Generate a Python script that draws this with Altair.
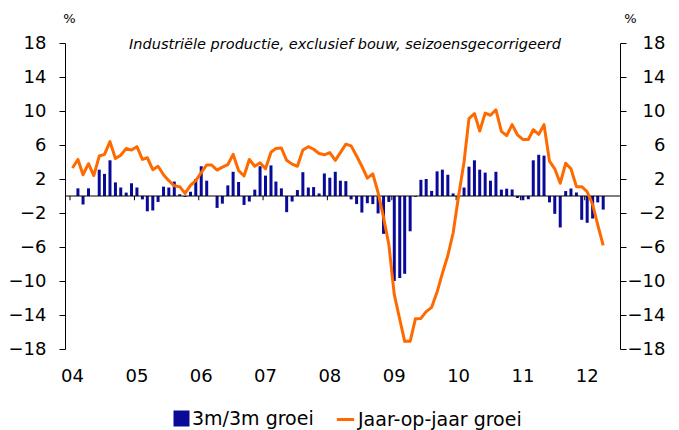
import altair as alt
import pandas as pd

# 3m/3m groei (bars), monthly from Jan 2004
bar_vals = [
    0.0, 0.9, -1.0, 0.9, 0.0, 3.1, 2.6, 4.2, 1.6, 1.0, 0.4, 1.5,      # 2004
    1.0, -0.4, -1.8, -1.7, -0.7, 1.1, 1.0, 1.7, 0.2, -0.1, 0.5, 2.0,  # 2005
    3.5, 1.8, 0.0, -1.4, -0.9, 1.25, 2.85, 1.65, -1.05, -0.65, 0.75, 3.5,  # 2006
    2.4, 3.6, 1.7, 0.9, -1.9, -0.65, 0.7, 2.8, 1.0, 1.05, 0.3, 2.65,  # 2007
    2.15, 2.85, 1.8, 1.75, -0.4, -0.95, -1.95, -0.85, -0.95, -2.05, -4.45, -0.7,  # 2008
    -10.0, -9.65, -9.15, -4.15, -0.1, 1.9, 2.0, 0.6, 2.9, 3.1, 2.5, 0.3,  # 2009
    0.0, 1.0, 3.45, 4.2, 3.1, 2.75, 1.8, 2.85, 0.75, 0.86, 0.77, -0.24,  # 2010
    -0.5, -0.38, 4.2, 4.85, 4.75, -0.75, -2.1, -3.7, 0.58, 0.88, 0.42, -2.8,  # 2011
    -3.15, -2.65, -0.75, -1.6,  # 2012
]

# Jaar-op-jaar groei (line)
line_vals = [
    3.3, 4.3, 2.5, 3.8, 2.4, 4.7, 4.9, 6.4, 4.4, 4.8, 5.6, 5.4,
    5.8, 4.3, 4.5, 3.1, 3.5, 2.5, 1.8, 1.2, 1.1, 0.3, 1.25, 1.8,
    2.75, 3.65, 3.65, 3.05, 3.4, 3.7, 4.9, 3.0, 2.35, 4.3, 3.5, 3.9,
    3.2, 5.15, 5.6, 5.65, 4.2, 3.75, 3.5, 5.4, 5.8, 5.5, 5.0, 4.85,
    5.1, 4.2, 5.1, 6.1, 5.9, 4.7, 3.5, 2.1, 2.6, 0.4, -2.5, -5.7,
    -11.6, -14.5, -17.1, -17.1, -14.45, -14.4, -13.6, -13.1, -11.3, -9.1, -7.0, -4.35,
    0.0, 4.0, 9.1, 9.7, 7.65, 9.75, 9.5, 10.15, 7.6, 7.1, 8.4, 7.2,
    6.65, 6.65, 7.8, 7.25, 8.4, 4.1, 3.2, 1.5, 3.85, 3.2, 1.1, 1.1,
    0.5, -1.0, -3.4, -5.8,
]

y_ticks = [-18, -14, -10, -6, -2, 2, 6, 10, 14, 18]
years = list(range(2004, 2013))
bar_name = "3m/3m groei"
line_name = "Jaar-op-jaar groei"
title_text = "Industriële productie, exclusief bouw, seizoensgecorrigeerd"

dates = pd.date_range("2004-01-01", periods=len(bar_vals), freq="MS") + pd.Timedelta(days=14)
df = pd.DataFrame({
    "datum": dates.strftime("%Y-%m-%d"),
    "groei3m": bar_vals,
    "jaar": line_vals,
    "reeks_b": bar_name,
    "reeks_l": line_name,
})
ticks_df = pd.DataFrame({"datum": [f"{y}-01-01" for y in years], "y0": 0.0, "y1": -0.5})
zero_df = pd.DataFrame({"y": [0.0]})
title_df = pd.DataFrame({"t": [title_text]})

FONT = "DejaVu Sans"
BLUE = "#0a0a99"
ORANGE = "#ff6a00"

xscale = alt.Scale(domain=[alt.DateTime(year=2004, month=1, date=1),
                           alt.DateTime(year=2012, month=6, date=21)], nice=False)
yscale = alt.Scale(domain=[-18, 18], nice=False, zero=False)

xaxis = alt.Axis(
    values=[alt.DateTime(year=y, month=1, date=1) for y in years],
    format="%y", domain=False, ticks=False, grid=False,
    labelFontSize=18, labelColor="black", labelFont=FONT, labelPadding=18,
    labelOffset=2, title=None, labelFlush=False,
)

left_axis = alt.Axis(
    values=y_ticks, orient="left", grid=False, domainColor="black", tickColor="black",
    tickSize=6, labelFontSize=18, labelColor="black", labelFont=FONT, labelPadding=13,
    title="%", titleAngle=0, titleX=4, titleY=-25, titleAlign="center",
    titleBaseline="middle", titleFontSize=13, titleFontWeight="normal", titleFont=FONT,
    titleColor="black",
)
right_axis = alt.Axis(
    values=y_ticks, orient="right", grid=False, domainColor="black", tickColor="black",
    tickSize=6, labelFontSize=18, labelColor="black", labelFont=FONT, labelPadding=39,
    labelAlign="right",
    title="%", titleAngle=0, titleX=10, titleY=-25, titleAlign="center",
    titleBaseline="middle", titleFontSize=13, titleFontWeight="normal", titleFont=FONT,
    titleColor="black",
)

bars = alt.Chart(df).mark_bar(size=3).encode(
    x=alt.X("datum:T", scale=xscale, axis=xaxis),
    y=alt.Y("groei3m:Q", scale=yscale, axis=left_axis),
    fill=alt.Fill("reeks_b:N", scale=alt.Scale(domain=[bar_name], range=[BLUE]),
                  legend=alt.Legend(orient="none", legendX=107, legendY=366, title=None,
                                    symbolType="square", symbolSize=256,
                                    labelFontSize=19, labelFont=FONT, labelColor="black",
                                    labelOffset=1, labelLimit=400)),
)

zero = alt.Chart(zero_df).mark_rule(color="black", strokeWidth=1.2).encode(
    y=alt.Y("y:Q", scale=yscale, axis=None),
)

yticks = alt.Chart(ticks_df).mark_rule(color="black", strokeWidth=1).encode(
    x=alt.X("datum:T", scale=xscale, axis=xaxis),
    y=alt.Y("y0:Q", scale=yscale, axis=None),
    y2="y1:Q",
)

line = alt.Chart(df).mark_line(strokeWidth=3, strokeJoin="round").encode(
    x=alt.X("datum:T", scale=xscale, axis=xaxis),
    y=alt.Y("jaar:Q", scale=yscale, axis=right_axis),
    stroke=alt.Stroke("reeks_l:N", scale=alt.Scale(domain=[line_name], range=[ORANGE]),
                      legend=alt.Legend(orient="none", legendX=270, legendY=366, title=None,
                                        symbolType="stroke", symbolStrokeWidth=3,
                                        symbolSize=300, labelFontSize=19, labelFont=FONT,
                                        labelColor="black", labelOffset=2, labelLimit=400)),
)

title = alt.Chart(title_df).mark_text(
    font=FONT, fontSize=14.5, fontStyle="italic", color="black", align="center",
    baseline="middle",
).encode(text="t:N", x=alt.value(280), y=alt.value(2))

chart = alt.layer(bars, zero, yticks, line, title).resolve_scale(
    y="independent", fill="independent", stroke="independent"
).properties(
    width=555, height=306,
    padding={"left": 57, "top": 35, "right": 51, "bottom": 81},
    autosize=alt.AutoSizeParams(type="none"),
).configure_view(stroke=None)

chart.save("out.html", embed_options={"renderer": "svg", "actions": False})
